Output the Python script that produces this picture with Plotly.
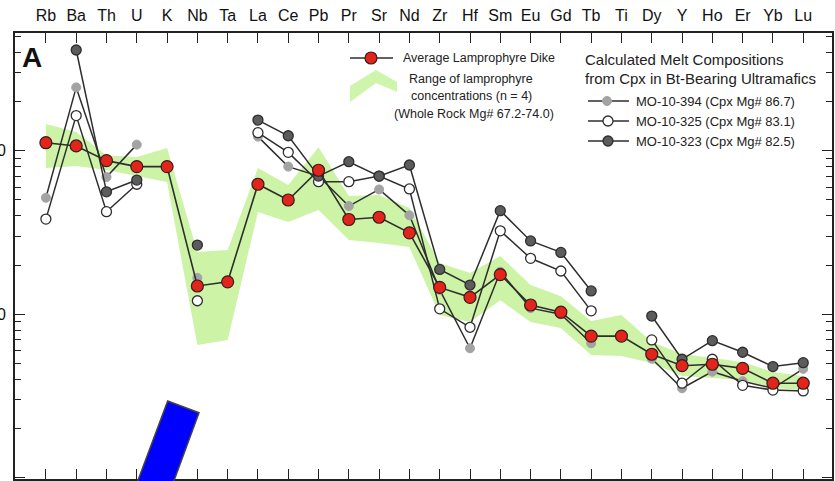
import plotly.graph_objects as go

# ---------------- data ----------------
categories = ["Rb", "Ba", "Th", "U", "K", "Nb", "Ta", "La", "Ce", "Pb", "Pr", "Sr", "Nd",
              "Zr", "Hf", "Sm", "Eu", "Gd", "Tb", "Ti", "Dy", "Y", "Ho", "Er", "Yb", "Lu"]

avg_dike = [112, 107, 87, 80, 80, 14.9, 15.8, 62.4, 50, 76, 38, 39.2, 31.5,
            14.6, 12.7, 17.5, 11.4, 10.3, 7.36, 7.36, 5.7, 4.85, 4.95, 4.67, 3.79, 3.79]

range_upper = [145.6, 130, 94, 91.5, 104, 24, 24.7, 78.4, 61.7, 105, 52.8, 53.6, 44.6,
               20.6, 17.9, 22.7, 15.1, 12.9, 9.1, 9.9, 6.77, 5.72, 5.41, 5.11, 4.44, 4.2]
range_lower = [78.4, 80.6, 76.2, 70.1, 64.4, 6.49, 6.97, 42.2, 36.7, 43.4, 28.5, 27.3, 25.8,
               9.9, 8.97, 12.2, 8.97, 8.25, 5.64, 5.56, 5.04, 4.2, 4.08, 3.97, 3.54, 3.45]

mo_10_394 = [51.6, 244, 69, 109, None, 16.7, None, 122, 80, 70, 45.9, 58, 40.3,
             14.1, 6.2, 18.2, 10.9, 10.0, 6.65, None, 5.35, 3.53, 4.46, 3.9, 3.53, 4.64]
mo_10_325 = [38.2, 164, 42.4, 62.4, None, 12.1, None, 129, 97.8, 64.7, 64.7, 70, 58.4,
             10.8, 8.33, 32.4, 22, 18.4, 10.5, None, 6.97, 3.79, 5.31, 3.68, 3.44, 3.40]
mo_10_323 = [None, 413, 56.1, 66.2, None, 26.5, None, 154, 123.5, 70, 85.7, 70, 81.8,
             18.8, 15.1, 43, 28.1, 23.9, 13.9, None, 9.76, 5.31, 6.9, 5.86, 4.79, 5.06]

y_tickvals = [1, 10, 100]
y_ticktext = ["1", "10", "100"]
y_minor = [m * d for d in (1, 10, 100) for m in range(2, 10) if m * d <= 520]

# ---------------- layout helpers ----------------
W, H = 835, 481
ML, MR, MT, MB = 15, 3, 33, 2
PW, PH = W - ML - MR, H - MT - MB
FONT = "Liberation Sans, Arial, Helvetica, sans-serif"
LINE = "#2e2e2e"


def px(x):
    return (x - ML) / PW


def py(y):
    return (H - MB - y) / PH


fig = go.Figure()

# range band
fig.add_trace(go.Scatter(x=categories, y=range_lower, mode="lines", line=dict(width=0),
                         showlegend=False, hoverinfo="skip"))
fig.add_trace(go.Scatter(x=categories, y=range_upper, mode="lines", line=dict(width=0),
                         fill="tonexty", fillcolor="#cdf3a6", showlegend=False, hoverinfo="skip"))

series = [
    (mo_10_394, dict(color="#a3a3a3", size=9, line=dict(color="#a3a3a3", width=1))),
    (mo_10_325, dict(color="white", size=10, line=dict(color=LINE, width=1.3))),
    (mo_10_323, dict(color="#5c5c5c", size=10, line=dict(color=LINE, width=1.3))),
]
for vals, mk in series:
    fig.add_trace(go.Scatter(x=categories, y=vals, mode="lines+markers", connectgaps=False,
                             line=dict(color=LINE, width=1.5), marker=mk, showlegend=False))

fig.add_trace(go.Scatter(x=categories, y=avg_dike, mode="lines+markers",
                         line=dict(color=LINE, width=1.6),
                         marker=dict(color="#e3241b", size=12, line=dict(color="#3a1c1c", width=1.2)),
                         showlegend=False))

# ---- legend symbols on a pixel-space overlay axis ----
leg_items = [
    ((350, 393), 371, 58, dict(color="#e3241b", size=12, line=dict(color="#3a1c1c", width=1.2))),
    ((588, 629), 607, 101, series[0][1]),
    ((588, 629), 608, 121, series[1][1]),
    ((588, 629), 608, 141, series[2][1]),
]
for (x0, x1), xm, yy, mk in leg_items:
    fig.add_trace(go.Scatter(x=[x0, x1], y=[yy, yy], mode="lines", xaxis="x2", yaxis="y2",
                             line=dict(color=LINE, width=1.5), showlegend=False, hoverinfo="skip"))
    fig.add_trace(go.Scatter(x=[xm], y=[yy], mode="markers", xaxis="x2", yaxis="y2",
                             marker=mk, showlegend=False, hoverinfo="skip", cliponaxis=False))

chevron = [(350, 86), (376, 70), (397, 82), (397, 92), (376, 83), (350, 102)]
path = "M " + " L ".join(f"{px(a):.5f},{py(b):.5f}" for a, b in chevron) + " Z"
blue = [(167.7, 401), (199, 412.7), (170.2, 491), (134.0, 491)]
bpath = "M " + " L ".join(f"{px(a):.5f},{py(b):.5f}" for a, b in blue) + " Z"

shapes = [
    dict(type="path", xref="paper", yref="paper", path=path, fillcolor="#cff5ad",
         line=dict(width=0), layer="above"),
    dict(type="path", xref="paper", yref="paper", path=bpath, fillcolor="#0000ff",
         line=dict(color="#444444", width=1.5), layer="above"),
]


def ann(text, x, y, size, xanchor="left", color="#222222"):
    return dict(text=text, x=px(x), y=py(y), xref="paper", yref="paper", showarrow=False,
                xanchor=xanchor, yanchor="middle", font=dict(family=FONT, size=size, color=color))


annotations = [
    ann("<b>A</b>", 20, 57, 28, color="#111111"),
    ann("Average Lamprophyre Dike", 401, 58, 12.5),
    ann("Range of lamprophyre", 471, 79, 12.5, "center"),
    ann("concentrations (n = 4)", 471, 96, 12.5, "center"),
    ann("(Whole Rock Mg# 67.2-74.0)", 474, 114, 12.5, "center"),
    ann("Calculated Melt Compositions", 583, 60, 15),
    ann("from Cpx in Bt-Bearing Ultramafics", 583, 79, 15),
    ann("MO-10-394 (Cpx Mg# 86.7)", 634, 101, 13),
    ann("MO-10-325 (Cpx Mg# 83.1)", 634, 121, 13),
    ann("MO-10-323 (Cpx Mg# 82.5)", 634, 141, 13),
]

fig.update_layout(
    width=W, height=H,
    margin=dict(l=ML, r=MR, t=MT, b=MB, pad=0, autoexpand=False),
    paper_bgcolor="white", plot_bgcolor="white",
    font=dict(family=FONT, color="#111111"),
    showlegend=False,
    xaxis=dict(type="category", categoryorder="array", categoryarray=categories,
               range=[-1.02, 25.95], side="top", showline=True, linecolor="#222222", linewidth=1.6,
               mirror="ticks", ticks="inside", ticklen=10, tickwidth=1.4, tickcolor="#222222",
               showgrid=False, zeroline=False, tickfont=dict(size=16, color="#111111"),
               ticklabelstandoff=4, automargin=False),
    yaxis=dict(type="log", range=[-0.007, 2.72], showline=True, linecolor="#222222", linewidth=1.6,
               mirror="ticks", ticks="inside", ticklen=10, tickwidth=1.4, tickcolor="#222222",
               tickmode="array", tickvals=y_tickvals, ticktext=y_ticktext,
               tickfont=dict(size=16, color="#111111"), showgrid=False, zeroline=False,
               ticklabelstandoff=4, automargin=False,
               minor=dict(tickmode="array", tickvals=y_minor, ticks="inside", ticklen=6,
                          tickwidth=1.3, tickcolor="#222222", showgrid=False)),
    xaxis2=dict(overlaying="x", range=[ML, W - MR], visible=False, showgrid=False, zeroline=False),
    yaxis2=dict(overlaying="y", range=[H - MB, MT], visible=False, showgrid=False, zeroline=False),
    shapes=shapes,
    annotations=annotations,
)

fig.write_html("out.html", config={"displayModeBar": False},
               post_script="document.body.style.margin='0';document.body.style.overflow='hidden';")
